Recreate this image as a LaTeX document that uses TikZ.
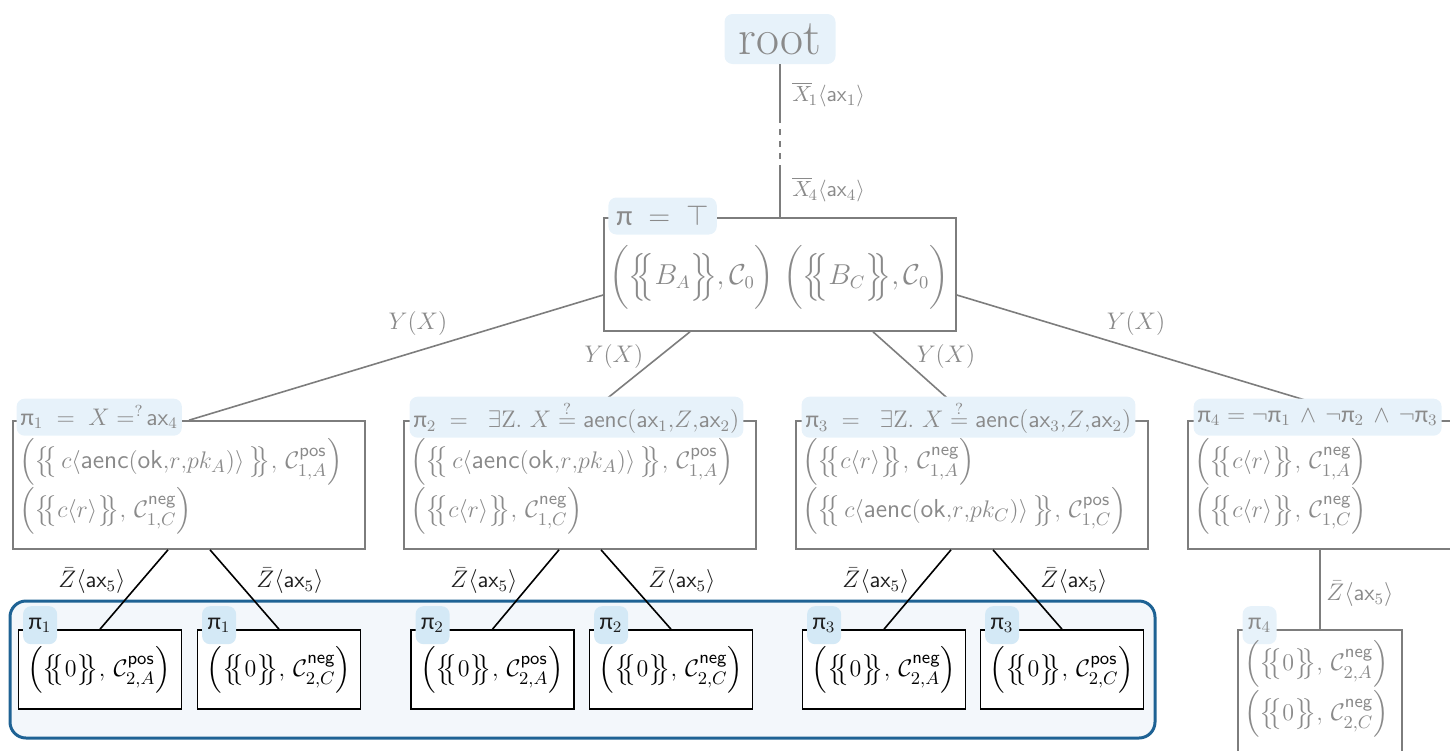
\documentclass[tikz,border=0pt]{standalone}
\usepackage{amsmath,amssymb}
\usepackage{fontspec}
\newfontfamily\pifont{Carlito}
\usetikzlibrary{calc}
\definecolor{tgray}{RGB}{138,138,138}
\definecolor{lgray}{RGB}{125,125,125}
\definecolor{tabblue}{RGB}{231,242,250}
\definecolor{leaftab}{RGB}{212,233,246}
\definecolor{hlfill}{RGB}{243,247,251}
\definecolor{hlborder}{RGB}{30,98,148}
\definecolor{dark}{RGB}{30,30,30}
\newcommand{\upi}{\text{\pifont π}}
\newcommand{\msb}[1]{\big\{\!\!\big\{#1\big\}\!\!\big\}}
\newcommand{\msB}[1]{\Big\{\!\!\Big\{#1\Big\}\!\!\Big\}}
\newcommand{\sfa}[1]{\mathsf{#1}}
\begin{document}
\begin{tikzpicture}[x=0.5pt,y=-0.5pt,
  gline/.style={draw=lgray,line width=0.8pt},
  bline/.style={draw=black,line width=0.8pt},
  gbox/.style={draw=lgray,line width=0.8pt,minimum width=176pt,minimum height=64pt,inner sep=0pt},
  lbox/.style={draw=black,line width=0.8pt,fill=white,minimum width=81.5pt,minimum height=39.5pt,inner sep=0pt},
  tab/.style={fill=tabblue,rounded corners=4pt,text=tgray,inner sep=2pt,minimum height=18.5pt,font=\fontsize{12}{14}\selectfont},
  ltab/.style={fill=leaftab,rounded corners=4pt,text=dark,inner sep=1pt,minimum height=19pt,minimum width=17pt,font=\fontsize{12}{14}\selectfont},
  glab/.style={text=tgray,inner sep=0pt,font=\fontsize{11.5}{13}\selectfont},
  blab/.style={text=dark,inner sep=0pt,font=\fontsize{11.5}{13}\selectfont},
  gtxt/.style={text=tgray,inner sep=0pt,anchor=west,font=\fontsize{13}{16}\selectfont},
  ltxt/.style={text=black,inner sep=0pt,font=\fontsize{13}{16}\selectfont},
]
\useasboundingbox (0,0) rectangle (1450,750);

% highlight region
\node[draw=hlborder,fill=hlfill,line width=1.5pt,rounded corners=8pt,minimum width=572.5pt,minimum height=68.5pt,inner sep=0pt] (hl) at (582.5,669.5) {};

% root
\node[tab,font=\fontsize{25}{28}\selectfont,minimum width=55.5pt,minimum height=25pt,inner sep=0pt] (root) at (780,39) {root};

% top box
\node[gbox,minimum height=56.5pt] (top) at (780,274.5) {};
\node[text=tgray,inner sep=0pt,font=\fontsize{13.3}{16}\selectfont] (toptxt) at (779,277)
  {$\biggl(\msB{B_A},\mathcal{C}_0\biggr)\ \biggl(\msB{B_C},\mathcal{C}_0\biggr)$};
\node[tab,anchor=west,font=\fontsize{14.5}{16}\selectfont,inner xsep=4pt] (toptab) at (608,216) {$\upi\;=\;\top$};

\coordinate (r1) at (780,117);
\coordinate (r2) at (780,165);
\draw[gline] (root.south) -- (r1);
\draw[gline,dashed,dash pattern=on 3pt off 3pt] (r1) -- (r2);
\draw[gline] (r2) -- (top.north);
\node[glab,anchor=west,font=\fontsize{11}{13}\selectfont] (lx1) at (792,95) {$\overline{X}\!{}_1\langle\sfa{ax}_1\rangle$};
\node[glab,anchor=west,font=\fontsize{11}{13}\selectfont] (lx4) at (792,190) {$\overline{X}\!{}_4\langle\sfa{ax}_4\rangle$};

% level 1 boxes
\node[gbox] (b1) at (189,485) {};
\node[gbox] (b2) at (580,485) {};
\node[gbox] (b3) at (972,485) {};
\node[gbox,minimum width=184pt] (b4) at (1372,485) {};

% edges top -> level 1
\draw[gline] ([yshift=-10.25pt]top.west) -- (b1.north);
\draw[gline] ([xshift=-45pt]top.south) -- (b2.north);
\draw[gline] ([xshift=46.5pt]top.south) -- (b3.north);
\draw[gline] ([yshift=-10.25pt]top.east) -- (b4.north);
\node[glab] (y1) at (418,323) {$Y(X)$};
\node[glab] (y2) at (614,356) {$Y(X)$};
\node[glab] (y3) at (946,356) {$Y(X)$};
\node[glab] (y4) at (1136,323) {$Y(X)$};

% level 1 tabs
\node[tab,anchor=west] (t1) at ([xshift=2pt,yshift=1.5pt]b1.north west) {$\upi_1\;=\;X =^{?}\!\sfa{ax}_4$};
\node[tab,anchor=west] (t2) at ([xshift=3pt,yshift=1.5pt]b2.north west) {$\upi_2\;=\;\;\exists\mathrm{Z}.\ X \stackrel{?}{=} \sfa{aenc}(\sfa{ax}_1{,}Z{,}\sfa{ax}_2)$};
\node[tab,anchor=west] (t3) at ([xshift=3pt,yshift=1.5pt]b3.north west) {$\upi_3\;=\;\;\exists\mathrm{Z}.\ X \stackrel{?}{=} \sfa{aenc}(\sfa{ax}_3{,}Z{,}\sfa{ax}_2)$};
\node[tab,anchor=west] (t4) at ([xshift=3pt,yshift=1.5pt]b4.north west) {$\upi_4 = \neg\upi_1\,\wedge\,\neg\upi_2\,\wedge\,\neg\upi_3$};

% level 1 texts
\node[gtxt] (b1a) at (19,462) {$\Big(\msb{\,c\langle\sfa{aenc}(\sfa{ok}{,}r{,}pk_A)\rangle\,},\,\mathcal{C}^{\sfa{pos}}_{1,A}\Big)$};
\node[gtxt] (b1b) at (19,511) {$\Big(\msb{c\langle r\rangle},\,\mathcal{C}^{\sfa{neg}}_{1,C}\Big)$};
\node[gtxt] (b2a) at (410,462) {$\Big(\msb{\,c\langle\sfa{aenc}(\sfa{ok}{,}r{,}pk_A)\rangle\,},\,\mathcal{C}^{\sfa{pos}}_{1,A}\Big)$};
\node[gtxt] (b2b) at (410,511) {$\Big(\msb{c\langle r\rangle},\,\mathcal{C}^{\sfa{neg}}_{1,C}\Big)$};
\node[gtxt] (b3a) at (802,462) {$\Big(\msb{c\langle r\rangle},\,\mathcal{C}^{\sfa{neg}}_{1,A}\Big)$};
\node[gtxt] (b3b) at (802,511) {$\Big(\msb{\,c\langle\sfa{aenc}(\sfa{ok}{,}r{,}pk_C)\rangle\,},\,\mathcal{C}^{\sfa{pos}}_{1,C}\Big)$};
\node[gtxt] (b4a) at (1194,462) {$\Big(\msb{c\langle r\rangle},\,\mathcal{C}^{\sfa{neg}}_{1,A}\Big)$};
\node[gtxt] (b4b) at (1194,511) {$\Big(\msb{c\langle r\rangle},\,\mathcal{C}^{\sfa{neg}}_{1,C}\Big)$};

% leaves
\node[lbox] (l1) at (100,669.5) {};
\node[lbox] (l2) at (279,669.5) {};
\node[lbox] (l3) at (492.5,669.5) {};
\node[lbox] (l4) at (671,669.5) {};
\node[lbox] (l5) at (884,669.5) {};
\node[lbox] (l6) at (1062,669.5) {};
\node[gbox,fill=white,minimum width=82pt,minimum height=70pt] (l7) at (1320,700) {};

\foreach \l/\p/\xa in {l1/b1/-10.5pt,l2/b1/10.5pt,l3/b2/-10.5pt,l4/b2/10.5pt,l5/b3/-10.5pt,l6/b3/10.5pt}{
  \draw[bline] ([xshift=\xa]\p.south) -- (\l.north);
}
\coordinate (b4s) at (1320,549);
\draw[gline] (b4s) -- (l7.north);

\node[blab] (z1) at (92,581) {$\bar{Z}\langle\sfa{ax}_5\rangle$};
\node[blab] (z2) at (290,581) {$\bar{Z}\langle\sfa{ax}_5\rangle$};
\node[blab] (z3) at (484,581) {$\bar{Z}\langle\sfa{ax}_5\rangle$};
\node[blab] (z4) at (682,581) {$\bar{Z}\langle\sfa{ax}_5\rangle$};
\node[blab] (z5) at (876,581) {$\bar{Z}\langle\sfa{ax}_5\rangle$};
\node[blab] (z6) at (1074,581) {$\bar{Z}\langle\sfa{ax}_5\rangle$};
\node[glab] (z7) at (1360,594) {$\bar{Z}\langle\sfa{ax}_5\rangle$};

% leaf tabs
\node[ltab,anchor=west] (lt1) at ([xshift=2.5pt,yshift=2pt]l1.north west) {$\upi_1$};
\node[ltab,anchor=west] (lt2) at ([xshift=2.5pt,yshift=2pt]l2.north west) {$\upi_1$};
\node[ltab,anchor=west] (lt3) at ([xshift=2.5pt,yshift=2pt]l3.north west) {$\upi_2$};
\node[ltab,anchor=west] (lt4) at ([xshift=2.5pt,yshift=2pt]l4.north west) {$\upi_2$};
\node[ltab,anchor=west] (lt5) at ([xshift=2.5pt,yshift=2pt]l5.north west) {$\upi_3$};
\node[ltab,anchor=west] (lt6) at ([xshift=2.5pt,yshift=2pt]l6.north west) {$\upi_3$};
\node[ltab,fill=tabblue,text=tgray,anchor=west] (lt7) at ([xshift=2.5pt,yshift=2pt]l7.north west) {$\upi_4$};

% leaf texts
\node[ltxt] (lx1t) at (99,670) {$\Big(\msb{0},\,\mathcal{C}^{\sfa{pos}}_{2,A}\Big)$};
\node[ltxt] (lx2t) at (279,670) {$\Big(\msb{0},\,\mathcal{C}^{\sfa{neg}}_{2,C}\Big)$};
\node[ltxt] (lx3t) at (492,670) {$\Big(\msb{0},\,\mathcal{C}^{\sfa{pos}}_{2,A}\Big)$};
\node[ltxt] (lx4t) at (671,670) {$\Big(\msb{0},\,\mathcal{C}^{\sfa{neg}}_{2,C}\Big)$};
\node[ltxt] (lx5t) at (884,670) {$\Big(\msb{0},\,\mathcal{C}^{\sfa{neg}}_{2,A}\Big)$};
\node[ltxt] (lx6t) at (1062,670) {$\Big(\msb{0},\,\mathcal{C}^{\sfa{pos}}_{2,C}\Big)$};
\node[ltxt,text=tgray,anchor=west] (lx7a) at (1244,664) {$\Big(\msb{0},\,\mathcal{C}^{\sfa{neg}}_{2,A}\Big)$};
\node[ltxt,text=tgray,anchor=west] (lx7b) at (1244,714) {$\Big(\msb{0},\,\mathcal{C}^{\sfa{neg}}_{2,C}\Big)$};
\end{tikzpicture}
\end{document}
